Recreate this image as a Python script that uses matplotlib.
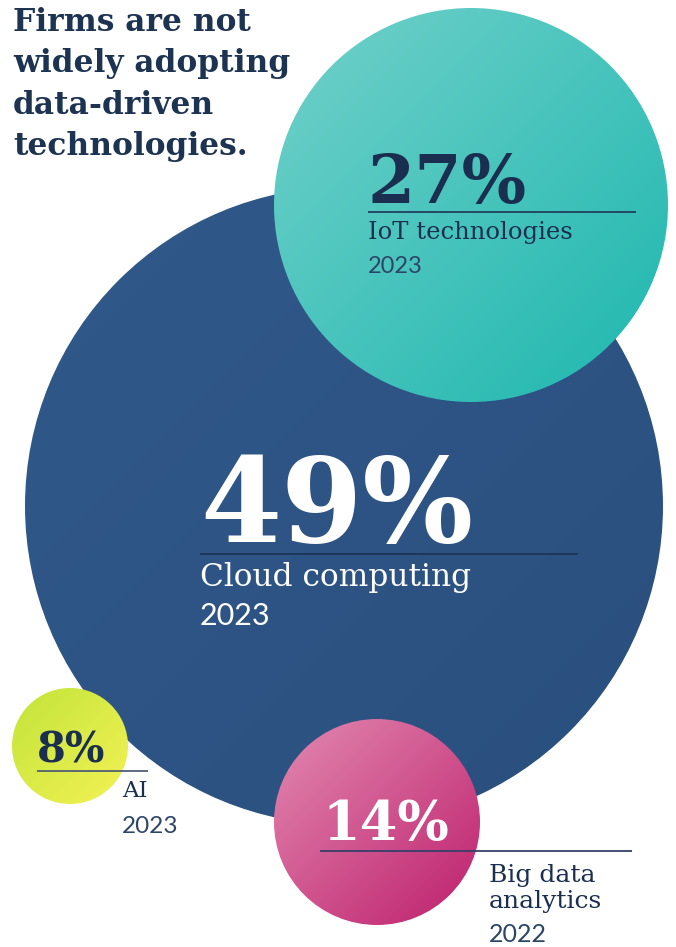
import numpy as np
import matplotlib
matplotlib.use("Agg")
import matplotlib.pyplot as plt
from matplotlib.patches import Circle
from matplotlib.colors import to_rgb

# data
title_lines = ["Firms are not", "widely adopting", "data-driven", "technologies."]
values = [27, 49, 8, 14]
names = [["IoT technologies"], ["Cloud computing"], ["AI"], ["Big data", "analytics"]]
years = ["2023", "2023", "2023", "2022"]

# layout (pixels, y down)
centres = [(471, 205), (344, 506), (70, 746), (377, 822)]
radii = [197, 319, 58, 103]
circle_z = [3, 2, 4, 5]
grad = [("#72d1ca", "#1db7af"), ("#30598a", "#2a4f7e"),
        ("#c2e43a", "#f4f255"), ("#e38ab1", "#bd1f6c")]

num_pos = [(368, 203), (200, 542), (37, 762), (322, 840)]
num_size = [49, 84, 30, 39]
num_col = ["#1a2e4f", "white", "#1a2e4f", "white"]
line_y = [212, 554, 771, 851]
line_x = [(368, 636), (200, 578), (37, 148), (320, 632)]
line_col = ["#22405c", "#1b3556", "#4f5f76", "#34406a"]
lab_pos = [(368, 239), (200, 586), (122, 797), (489, 882)]
lab_size = [17.5, 22.5, 16.5, 18]
lab_col = ["#1a2e4f", "white", "#1a2e4f", "#1a2e4f"]
yr_pos = [(368, 273), (200, 625), (122, 833), (489, 942)]
yr_size = [17, 22, 17.5, 18]
yr_col = ["#2c4668", "white", "#2c4668", "#2c4668"]

fig = plt.figure(figsize=(6.76, 9.47), dpi=100)
ax = fig.add_axes([0, 0, 1, 1])

for i in range(4):
    cx, cy = centres[i]
    r = radii[i]
    n = 200
    gx, gy = np.meshgrid(np.linspace(0, 1, n), np.linspace(0, 1, n))
    t = np.clip((gx + gy) / 2, 0, 1)[..., None]
    c1 = np.array(to_rgb(grad[i][0]))
    c2 = np.array(to_rgb(grad[i][1]))
    img = c1 * (1 - t) + c2 * t
    im = ax.imshow(img, extent=[cx - r, cx + r, cy + r, cy - r],
                   origin="upper", zorder=circle_z[i], interpolation="bilinear")
    circ = Circle((cx, cy), r, facecolor="none", edgecolor="none", zorder=circle_z[i])
    ax.add_patch(circ)
    im.set_clip_path(circ)

ax.set_xlim(0, 676)
ax.set_ylim(947, 0)
ax.axis("off")

for k, line in enumerate(title_lines):
    ax.text(13, 31 + k * 41.3, line, fontsize=22.5, fontweight="bold",
            family="DejaVu Serif", color="#1c3352", va="baseline", ha="left", zorder=10)

for i in range(4):
    ax.text(num_pos[i][0], num_pos[i][1], f"{values[i]}%", fontsize=num_size[i],
            fontweight="bold", family="DejaVu Serif", color=num_col[i],
            va="baseline", ha="left", zorder=10)
    ax.plot(line_x[i], [line_y[i], line_y[i]], color=line_col[i], lw=1.3,
            solid_capstyle="butt", zorder=10)
    for j, nm in enumerate(names[i]):
        ax.text(lab_pos[i][0], lab_pos[i][1] + j * 26, nm, fontsize=lab_size[i],
                family="DejaVu Serif", color=lab_col[i], va="baseline", ha="left", zorder=10)
    ax.text(yr_pos[i][0], yr_pos[i][1], years[i], fontsize=yr_size[i],
            family="Lato", color=yr_col[i],
            va="baseline", ha="left", zorder=10)

fig.savefig("out.png", dpi=100)
